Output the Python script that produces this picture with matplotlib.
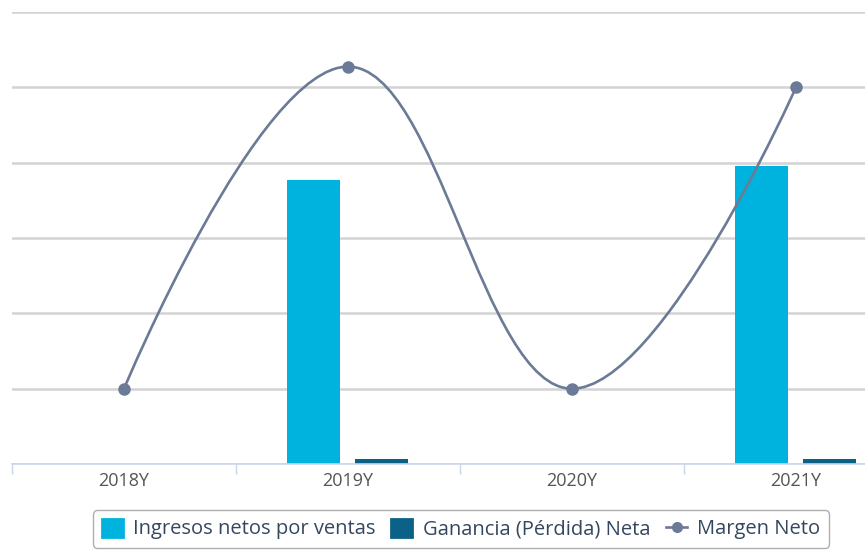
import matplotlib
matplotlib.use("Agg")
import matplotlib.pyplot as plt
from matplotlib.path import Path
from matplotlib.patches import PathPatch, Patch
from matplotlib.lines import Line2D
import numpy as np

plt.rcParams['font.family'] = ['Open Sans', 'DejaVu Sans']

categories = ["2018Y", "2019Y", "2020Y", "2021Y"]
ingresos = [0.0, 3.77, 0.0, 3.96]          # revenue (bars)
ganancia = [0.0, 0.066, 0.0, 0.068]        # net profit (bars)
margen = [0.0, 1.71, 0.0, 1.60]            # net margin % (line)
series_names = ["Ingresos netos por ventas", "Ganancia (Pérdida) Neta", "Margen Neto"]

c_cyan = "#00b2de"
c_dark = "#0b6186"
c_line = "#6b7a96"

W, H = 865, 550
fig = plt.figure(figsize=(W / 100, H / 100), dpi=100)
ax = fig.add_axes([12 / W, 1 - 464 / H, 896 / W, 452 / H])

x = np.arange(len(categories))
bw = 53 / 224
off = 34 / 224
ax.bar(x - off, ingresos, width=bw, color=c_cyan, zorder=2)
ax.bar(x + off, ganancia, width=bw, color=c_dark, zorder=2)
ax.set_xlim(-0.5, len(categories) - 0.5)
ax.set_ylim(0, 6)
ax.set_yticks(np.arange(0, 7, 1))
ax.yaxis.grid(True, color="#d3d3d3", linewidth=1.8, zorder=0)
ax.set_axisbelow(True)
for s in ["top", "right", "left"]:
    ax.spines[s].set_visible(False)
ax.spines["bottom"].set_color("#ccd6eb")
ax.spines["bottom"].set_linewidth(1.2)
ax.spines["bottom"].set_zorder(3)
ax.set_xticks(x)
ax.set_xticklabels(categories, fontsize=13, color="#555555")
ax.set_xticks(np.arange(-0.5, len(categories), 1), minor=True)
ax.tick_params(axis='x', which='major', length=0, pad=6)
ax.tick_params(axis='x', which='minor', length=7, color="#ccd6eb", width=1)

ax2 = ax.twinx()
ax2.set_ylim(-0.4, 2.0)
ax2.axis('off')
ax2.set_xlim(ax.get_xlim())
ax.tick_params(axis='y', which='both', left=False, right=False, labelleft=False, labelright=False)

# Highcharts-like spline
def spline_path(xs, ys, smoothing=1.5):
    n = len(xs)
    denom = smoothing + 1
    lc = [(xs[i], ys[i]) for i in range(n)]
    rc = [(xs[i], ys[i]) for i in range(n)]
    for i in range(1, n - 1):
        px, py = xs[i], ys[i]
        lx, ly = xs[i - 1], ys[i - 1]
        nx, ny = xs[i + 1], ys[i + 1]
        lcx = (smoothing * px + lx) / denom
        lcy = (smoothing * py + ly) / denom
        rcx = (smoothing * px + nx) / denom
        rcy = (smoothing * py + ny) / denom
        if rcx != lcx:
            corr = ((rcy - lcy) * (rcx - px)) / (rcx - lcx) + py - rcy
            lcy += corr
            rcy += corr
        if lcy > ly and lcy > py:
            lcy = max(ly, py); rcy = 2 * py - lcy
        elif lcy < ly and lcy < py:
            lcy = min(ly, py); rcy = 2 * py - lcy
        if rcy > ny and rcy > py:
            rcy = max(ny, py); lcy = 2 * py - rcy
        elif rcy < ny and rcy < py:
            rcy = min(ny, py); lcy = 2 * py - rcy
        lc[i] = (lcx, lcy)
        rc[i] = (rcx, rcy)
    verts = [(xs[0], ys[0])]
    codes = [Path.MOVETO]
    for i in range(1, n):
        verts += [rc[i - 1], lc[i], (xs[i], ys[i])]
        codes += [Path.CURVE4] * 3
    return Path(verts, codes)

p = spline_path(list(x.astype(float)), margen)
ax2.add_patch(PathPatch(p, facecolor="none", edgecolor=c_line, linewidth=1.9, zorder=4))
ax2.plot(x, margen, linestyle="none", marker="o", markersize=8, color=c_line, zorder=5)

handles = [
    Patch(facecolor=c_cyan, edgecolor=c_cyan, joinstyle="round", linewidth=2),
    Patch(facecolor=c_dark, edgecolor=c_dark, joinstyle="round", linewidth=2),
    Line2D([0], [0], color=c_line, linewidth=1.9, marker="o", markersize=7),
]
leg = fig.legend(handles, series_names, loc="center", bbox_to_anchor=(461 / W, 1 - 529 / H),
                 ncol=3, frameon=True, fancybox=True, fontsize=14.5, handlelength=1.05,
                 handleheight=1.0, handletextpad=0.5, columnspacing=0.8, borderpad=0.4,
                 borderaxespad=0, labelcolor="#34475e")
leg.get_frame().set_edgecolor("#9a9a9a")
leg.get_frame().set_linewidth(1.0)

fig.savefig("out.png", dpi=100)
